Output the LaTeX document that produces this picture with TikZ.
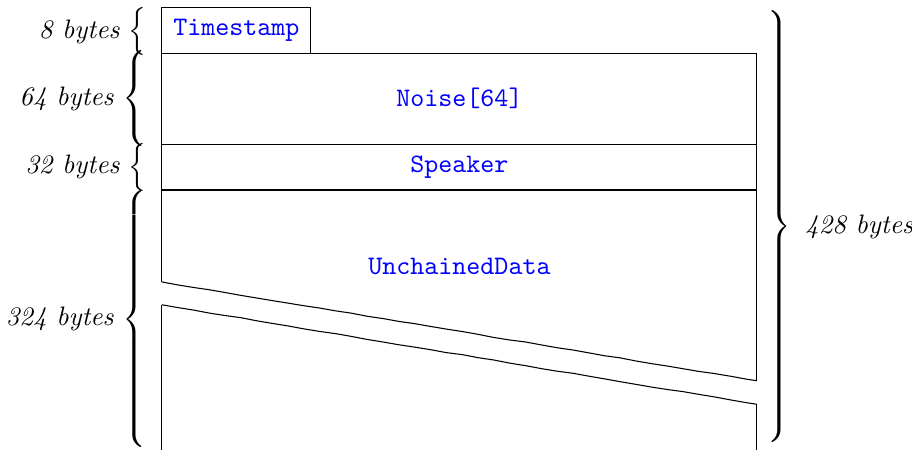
\documentclass[tikz,border=0pt]{standalone}
\usepackage{tikz}
\usetikzlibrary{positioning, decorations.pathmorphing}
\newcommand{\bytes}[1]{\textit{#1 bytes}}
\newcommand{\bracel}[1]{$\left\{\vcenter{\hrule height #1 width 0pt}\right.$}
\newcommand{\bracer}[1]{$\left.\vcenter{\hrule height #1 width 0pt}\right\}$}
\delimitershortfall=0pt
\delimiterfactor=1000

\begin{document}
\begin{tikzpicture}[
				field/.style={draw, rectangle, outer sep=0pt, inner sep=0pt, text=blue, font=\ttfamily},
				size/.style={inner sep=0pt, outer sep=0pt},
				cut/.style={decorate, decoration={random steps, segment length=6pt, amplitude=0.15pt}}]

			\useasboundingbox (0,0) rectangle (12,-5.908);

			\node[field, minimum width=7.83cm, minimum height=1.2cm] (noise) at (6.045,-1.3) {Noise[64]};
			\node[field, minimum width=1.96cm, minimum height=0.6cm, anchor=south west] (timestamp) at (noise.north west) {Timestamp};
			\node[field, minimum width=7.83cm, minimum height=0.6cm, below=0pt of noise] (speaker) {Speaker};

			% the data block is too long to show, so it is cut in two
			\coordinate (cuttopl) at ([yshift=-1.21cm]speaker.south west);
			\coordinate (cuttopr) at ([yshift=-2.51cm]speaker.south east);
			\coordinate (cutbotl) at ([yshift=-1.51cm]speaker.south west);
			\coordinate (cutbotr) at ([yshift=-2.82cm]speaker.south east);
			\coordinate (endl) at (speaker.south west |- 0,-5.95);
			\coordinate (endr) at (speaker.south east |- 0,-5.95);

			\node[text=blue, font=\ttfamily] (unchained) at (6.045,-3.5) {UnchainedData};
			\draw	(cuttopl) -- (speaker.south west) (speaker.south east) -- (cuttopr);
			\draw[cut] (cuttopl) -- (cuttopr);
			\draw	(endl) -- (cutbotl) (cutbotr) -- (endr);
			\draw[cut] (cutbotl) -- (cutbotr);

			\node[size, anchor=east] (size8) at ([xshift=-0.16cm, yshift=-0.02cm]timestamp.west) {\bytes{8} \bracel{0.6cm}};
			\node[size, anchor=east] (size64) at ([xshift=-0.16cm]noise.west) {\bytes{64} \bracel{1.22cm}};
			\node[size, anchor=east] (size32) at ([xshift=-0.16cm]speaker.west) {\bytes{32} \bracel{0.6cm}};
			\node[size, anchor=east] (size324) at ([xshift=-0.16cm]speaker.west |- 0,-4.2) {\bytes{324} \bracel{3.32cm}};
			\node[size, anchor=west] (size428) at ([xshift=0.1cm]noise.east |- 0,-2.98) {\bracer{5.62cm}\hspace{0.18cm}\bytes{428}};

		\end{tikzpicture}
\end{document}
